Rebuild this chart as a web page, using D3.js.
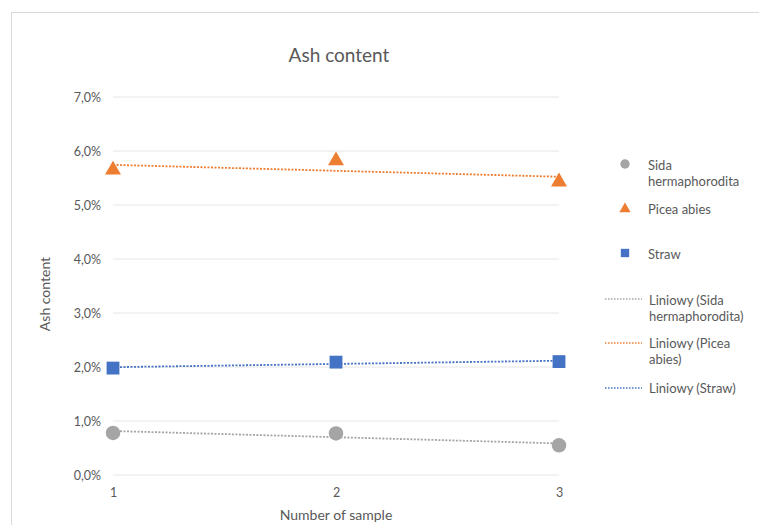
<!DOCTYPE html>
<html>
<head>
<meta charset="utf-8">
<script src="https://cdn.jsdelivr.net/npm/d3@7"></script>
<style>
  html, body { margin: 0; padding: 0; background: #fff; }
  svg { display: block; font-family: Lato, "Open Sans", sans-serif; }
</style>
</head>
<body>
<svg id="chart" width="759" height="525"></svg>
<script>
// Sample numbers on the x axis
const samples = [1, 2, 3];
// Ash content per sample (fraction)
const sida = [0.0078, 0.0077, 0.0055];
const picea = [0.0565, 0.0582, 0.0543];
const straw = [0.0198, 0.0209, 0.0210];
const yTicks = [0, 0.01, 0.02, 0.03, 0.04, 0.05, 0.06, 0.07];
const xTicks = [1, 2, 3];

const seriesNames = ["Sida hermaphorodita", "Picea abies", "Straw"];
const colors = ["#A5A5A5", "#ED7D31", "#4472C4"];
const symbols = [d3.symbolCircle, d3.symbolTriangle, d3.symbolSquare];
const allSeries = [sida, picea, straw];

const svg = d3.select("#chart");

// chart frame
svg.append("rect")
  .attr("x", 11.5).attr("y", 12.5)
  .attr("width", 760).attr("height", 520)
  .attr("fill", "#fff").attr("stroke", "#d9d9d9");

const x = d3.scaleLinear().domain([1, 3]).range([113, 559]);
const y = d3.scaleLinear().domain([0, 0.07]).range([475, 97]);

const fmt = v => d3.format(".1f")(v * 100).replace(".", ",") + "%";

// horizontal gridlines
svg.append("g")
  .selectAll("line").data(yTicks).join("line")
  .attr("x1", x(1)).attr("x2", x(3))
  .attr("y1", d => y(d)).attr("y2", d => y(d))
  .attr("stroke", "#e6e6e6").attr("stroke-width", 1);

// y axis labels
const yAxis = d3.axisLeft(y).tickValues(yTicks).tickFormat(fmt).tickSize(0).tickPadding(12);
svg.append("g").attr("transform", `translate(${x(1)},0)`).call(yAxis)
  .call(g => g.select(".domain").remove())
  .call(g => g.selectAll("text").attr("fill", "#595959").attr("font-size", 12.5).attr("font-family", "Lato, sans-serif"));

// x axis labels
const xAxis = d3.axisBottom(x).tickValues(xTicks).tickFormat(d3.format("d")).tickSize(0).tickPadding(13);
svg.append("g").attr("transform", `translate(0,${y(0)})`).call(xAxis)
  .call(g => g.select(".domain").remove())
  .call(g => g.selectAll("text").attr("fill", "#595959").attr("font-size", 12.5).attr("font-family", "Lato, sans-serif"));

// titles
svg.append("text").attr("x", 339).attr("y", 62).attr("text-anchor", "middle")
  .attr("font-size", 19).attr("fill", "#595959").text("Ash content");
svg.append("text").attr("x", 336).attr("y", 520).attr("text-anchor", "middle")
  .attr("font-size", 14).attr("fill", "#595959").text("Number of sample");
svg.append("text").attr("transform", "translate(50,294) rotate(-90)")
  .attr("text-anchor", "middle").attr("font-size", 14).attr("fill", "#595959").text("Ash content");

// least squares line
function fit(ys) {
  const mx = d3.mean(samples), my = d3.mean(ys);
  const b = d3.sum(samples, (s, i) => (s - mx) * (ys[i] - my)) / d3.sum(samples, s => (s - mx) ** 2);
  return s => my + b * (s - mx);
}

const line = d3.line().x(d => x(d[0])).y(d => y(d[1]));

allSeries.forEach((vals, i) => {
  const f = fit(vals);
  svg.append("path")
    .attr("d", line([[1, f(1)], [3, f(3)]]))
    .attr("fill", "none").attr("stroke", colors[i])
    .attr("stroke-width", 1.8).attr("stroke-dasharray", "2,1.5");
});

allSeries.forEach((vals, i) => {
  svg.append("g").selectAll("path").data(vals).join("path")
    .attr("transform", (d, j) => `translate(${x(samples[j])},${y(d)})`)
    .attr("d", d3.symbol().type(symbols[i]).size(i === 1 ? 110 : 165))
    .attr("fill", colors[i]);
});

// legend
const lg = svg.append("g").attr("font-size", 13).attr("fill", "#595959");
const markerRows = [
  { yy: 164, ty: 165, lines: ["Sida", "hermaphorodita"] },
  { yy: 209, ty: 209, lines: ["Picea abies"] },
  { yy: 253, ty: 254, lines: ["Straw"] }
];
markerRows.forEach((r, i) => {
  lg.append("path").attr("transform", `translate(625,${r.yy})`)
    .attr("d", d3.symbol().type(symbols[i]).size(i === 1 ? 55 : 70)).attr("fill", colors[i]);
  const t = lg.append("text").attr("x", 648).attr("y", r.ty + 4.5).attr("fill", "#595959");
  r.lines.forEach((s, k) => t.append("tspan").attr("x", 648).attr("dy", k ? 16 : 0).text(s));
});
const trendRows = [
  { yy: 299, ty: 300, lines: ["Liniowy (Sida", "hermaphorodita)"] },
  { yy: 343, ty: 343, lines: ["Liniowy (Picea", "abies)"] },
  { yy: 388, ty: 388, lines: ["Liniowy (Straw)"] }
];
trendRows.forEach((r, i) => {
  lg.append("line").attr("x1", 605).attr("x2", 642).attr("y1", r.yy).attr("y2", r.yy)
    .attr("stroke", colors[i]).attr("stroke-width", 1.3).attr("stroke-dasharray", "1.5,1.5");
  const t = lg.append("text").attr("x", 649).attr("y", r.ty + 4.5).attr("fill", "#595959");
  r.lines.forEach((s, k) => t.append("tspan").attr("x", 649).attr("dy", k ? 16 : 0).text(s));
});
</script>
</body>
</html>
